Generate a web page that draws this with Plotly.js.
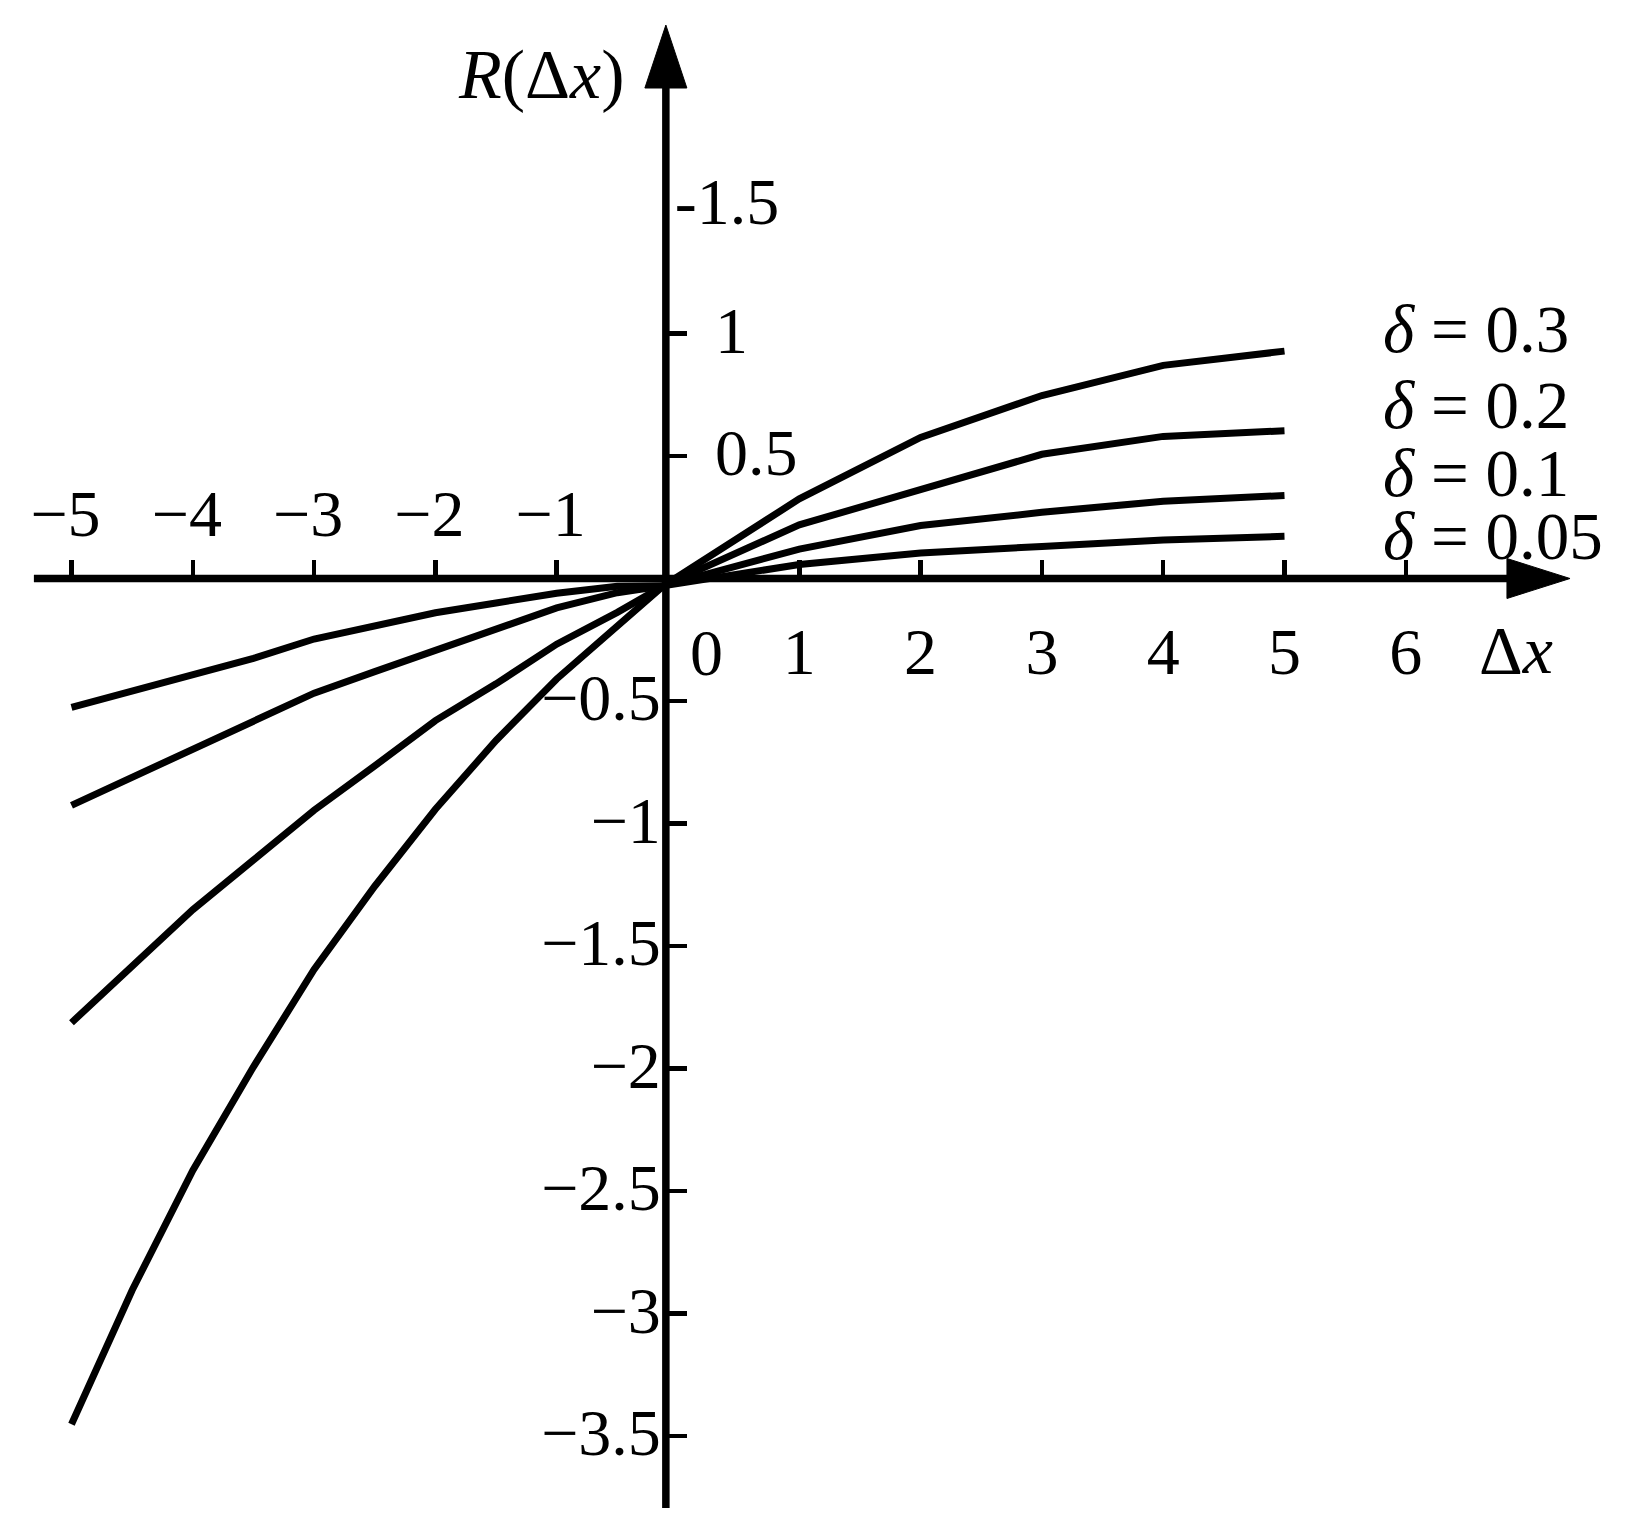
<!DOCTYPE html>
<html>
<head>
<meta charset="utf-8">
<script src="https://cdn.plot.ly/plotly-3.0.1.min.js"></script>
<style>html,body{margin:0;padding:0;background:#fff;}#chart{width:1636px;height:1532px;}</style>
</head>
<body>
<div id="chart"></div>
<script>
// ---- data ----
const dx = [-5, -4.5, -4, -3.5, -3, -2.5, -2, -1.5, -1, -0.5, -0.12, 1, 2, 3, 4, 5];
const R_delta005 = [-0.526, -0.46, -0.395, -0.326, -0.247, -0.194, -0.14, -0.10, -0.06, -0.032, -0.03, 0.057, 0.104, 0.131, 0.157, 0.172];
const R_delta01  = [-0.926, -0.81, -0.70, -0.58, -0.468, -0.38, -0.293, -0.21, -0.12, -0.058, -0.03, 0.12, 0.216, 0.27, 0.315, 0.339];
const R_delta02  = [-1.813, -1.579, -1.352, -1.149, -0.946, -0.765, -0.58, -0.43, -0.268, -0.138, -0.03, 0.219, 0.364, 0.507, 0.58, 0.603];
const R_delta03  = [-3.452, -2.905, -2.416, -1.993, -1.596, -1.256, -0.942, -0.661, -0.41, -0.198, -0.03, 0.325, 0.576, 0.747, 0.87, 0.928];
const seriesNames = ['δ = 0.05', 'δ = 0.1', 'δ = 0.2', 'δ = 0.3'];
const legendLabels = ['<i>δ</i> = 0.3', '<i>δ</i> = 0.2', '<i>δ</i> = 0.1', '<i>δ</i> = 0.05'];

const xTickNeg = [-5, -4, -3, -2, -1];
const xTickNegText = ['\u22125', '\u22124', '\u22123', '\u22122', '\u22121'];
const xTickPos = [1, 2, 3, 4, 5, 6];
const xTickPosText = ['1', '2', '3', '4', '5', '6'];
const yTickNeg = [-0.5, -1, -1.5, -2, -2.5, -3, -3.5];
const yTickNegText = ['\u22120.5', '\u22121', '\u22121.5', '\u22122', '\u22122.5', '\u22123', '\u22123.5'];
const yTickPos = [0.5, 1];
const yTickPosText = ['0.5', '1'];
const yTickTop = [1.5];
const yTickTopText = ['-1.5'];

// ---- layout geometry ----
const W = 1636, H = 1532;
const xRange = [-5.5894, -5.5894 + W / 121.3];
const yRange = [578.5 / 245 - H / 245, 578.5 / 245];
const axisX = -0.1;   // where the vertical axis is drawn
const posX0 = (0 - yRange[0]) / (yRange[1] - yRange[0]);
const posY0 = (axisX - xRange[0]) / (xRange[1] - xRange[0]);

const FONT = 'Liberation Serif, Times New Roman, serif';
const tickFont = {family: FONT, size: 66, color: '#000'};

const series = [R_delta005, R_delta01, R_delta02, R_delta03];
const traces = series.map((ys, i) => ({
  x: dx, y: ys, type: 'scatter', mode: 'lines', name: seriesNames[i],
  line: {color: '#000', width: 7}, showlegend: false, hoverinfo: 'skip'
}));
traces.push({x: [], y: [], xaxis: 'x2', yaxis: 'y', type: 'scatter', mode: 'lines', showlegend: false});
traces.push({x: [], y: [], xaxis: 'x', yaxis: 'y2', type: 'scatter', mode: 'lines', showlegend: false});
traces.push({x: [], y: [], xaxis: 'x', yaxis: 'y3', type: 'scatter', mode: 'lines', showlegend: false});

const baseAx = {showgrid: false, zeroline: false, showline: false, fixedrange: true,
  tickcolor: '#000', tickwidth: 4.5, tickfont: tickFont};

const layout = {
  width: W, height: H, autosize: false,
  margin: {l: 0, r: 0, t: 0, b: 0, pad: 0},
  paper_bgcolor: '#fff', plot_bgcolor: '#fff',
  showlegend: false,
  xaxis: Object.assign({}, baseAx, {range: xRange, anchor: 'free', position: posX0, side: 'top',
    ticks: 'outside', ticklen: 19, tickmode: 'array', tickvals: xTickNeg, ticktext: xTickNegText,
    ticklabelstandoff: -3, ticklabelshift: -6}),
  xaxis2: Object.assign({}, baseAx, {range: xRange, overlaying: 'x', anchor: 'free', position: posX0, side: 'bottom',
    ticks: 'inside', ticklen: 19, tickmode: 'array', tickvals: xTickPos, ticktext: xTickPosText,
    ticklabelstandoff: 28}),
  yaxis: Object.assign({}, baseAx, {range: yRange, anchor: 'free', position: posY0, side: 'left',
    ticks: 'inside', ticklen: 20, tickmode: 'array', tickvals: yTickNeg, ticktext: yTickNegText,
    ticklabelstandoff: 5, ticklabelshift: -4}),
  yaxis2: Object.assign({}, baseAx, {range: yRange, overlaying: 'y', anchor: 'free', position: posY0, side: 'right',
    ticks: 'outside', ticklen: 20, tickmode: 'array', tickvals: yTickPos, ticktext: yTickPosText,
    ticklabelstandoff: 15, ticklabelshift: -4}),
  yaxis3: Object.assign({}, baseAx, {range: yRange, overlaying: 'y', anchor: 'free', position: posY0, side: 'right',
    ticks: '', tickmode: 'array', tickvals: yTickTop, ticktext: yTickTopText,
    ticklabelstandoff: 8, ticklabelshift: -10}),
  shapes: [
    {type: 'line', xref: 'x', yref: 'y', x0: -5.31, x1: 6.9, y0: 0, y1: 0, line: {color: '#000', width: 7.5}},
    {type: 'path', xref: 'x', yref: 'y', path: 'M 6.834,0.0816 L 7.354,0 L 6.834,-0.0816 Z', fillcolor: '#000', line: {color: '#000', width: 1}},
    {type: 'line', xref: 'x', yref: 'y', x0: axisX, x1: axisX, y0: -3.794, y1: 2.05, line: {color: '#000', width: 7.5}},
    {type: 'path', xref: 'x', yref: 'y', path: 'M -0.273,2.002 L -0.1,2.259 L 0.073,2.002 Z', fillcolor: '#000', line: {color: '#000', width: 1}}
  ],
  annotations: [
    {xref: 'paper', yref: 'paper', x: 541 / W, y: 1 - 75 / H, xanchor: 'center', yanchor: 'middle',
      text: '<i>R</i>(Δ<i>x</i>)', showarrow: false, font: {family: FONT, size: 70, color: '#000'}},
    {xref: 'paper', yref: 'paper', x: 1516 / W, y: 1 - 650 / H, xanchor: 'center', yanchor: 'middle',
      text: 'Δ<i>x</i>', showarrow: false, font: {family: FONT, size: 68, color: '#000'}},
    {xref: 'paper', yref: 'paper', x: 706 / W, y: 1 - 652 / H, xanchor: 'center', yanchor: 'middle',
      text: '0', showarrow: false, font: tickFont}
  ].concat(legendLabels.map((t, i) => ({
    xref: 'paper', yref: 'paper', x: 1381 / W, y: 1 - [329, 405, 473, 536][i] / H,
    xanchor: 'left', yanchor: 'middle', text: t, showarrow: false,
    font: {family: FONT, size: 67, color: '#000'}
  })))
};

Plotly.newPlot('chart', traces, layout, {staticPlot: true, displayModeBar: false});
</script>
</body>
</html>
